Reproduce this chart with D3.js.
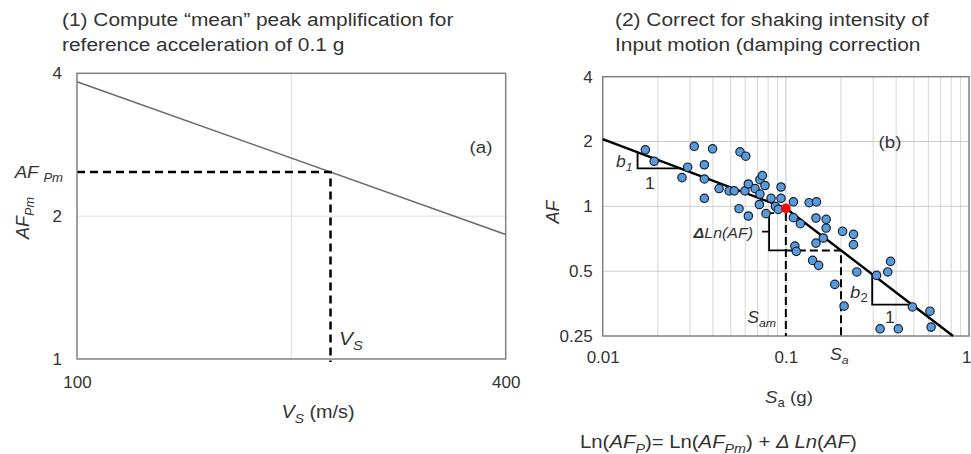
<!DOCTYPE html>
<html>
<head>
<meta charset="utf-8">
<script src="https://cdn.jsdelivr.net/npm/d3@7"></script>
<style>
body { margin: 0; background: #fff; }
text { font-family: "Liberation Sans", Arial, sans-serif; fill: #333; }
</style>
</head>
<body>
<svg id="chart" width="971" height="454"></svg>
<script>
// panel (a): mean peak amplification vs Vs
var vsLine = [100, 400];
var afLine = [3.84, 1.83];
var vsPick = 227;
var xTicksA = [100, 400];
var yTicksA = [1, 2, 4];
var gridXA = [200];
var gridYA = [2];

// panel (b): AF vs Sa
var saObs = [0.0171, 0.0191, 0.0316, 0.0398, 0.0291, 0.0271, 0.0359, 0.0359, 0.0359, 0.0432,
  0.0490, 0.0523, 0.0562, 0.0604, 0.0555, 0.0624, 0.0598, 0.0624, 0.0679, 0.0722,
  0.0744, 0.0769, 0.0722, 0.0717, 0.0779, 0.0830, 0.0877, 0.0941, 0.0941, 0.0910,
  0.110, 0.110, 0.120, 0.134, 0.147, 0.146, 0.166, 0.166, 0.160, 0.146,
  0.112, 0.114, 0.140, 0.151, 0.204, 0.234, 0.234, 0.244, 0.185, 0.208,
  0.313, 0.360, 0.373, 0.491, 0.612, 0.621, 0.327, 0.411];
var afObs = [1.83, 1.62, 1.90, 1.85, 1.52, 1.36, 1.56, 1.34, 1.09, 1.21,
  1.18, 1.18, 1.79, 1.71, 0.975, 0.902, 1.18, 1.27, 1.21, 1.33,
  1.39, 1.25, 1.14, 1.02, 0.925, 1.09, 1.00, 1.23, 1.09, 0.968,
  1.05, 0.886, 0.831, 1.04, 1.05, 0.883, 0.870, 0.793, 0.713, 0.675,
  0.654, 0.618, 0.561, 0.532, 0.765, 0.741, 0.664, 0.496, 0.434, 0.344,
  0.478, 0.496, 0.555, 0.341, 0.326, 0.275, 0.270, 0.270];
var fitSa = [0.01, 0.1, 0.818];
var fitAf = [2.05, 0.98, 0.25];
var saMean = 0.1;
var saPick = 0.2;
var bracketSa = 0.081;
var bracketTop = 0.931;
var slopeSa = [0.0155, 0.296];
var slopeBase = [1.5, 0.35];
var xTicksB = [0.01, 0.1, 1];
var yTicksB = [0.25, 0.5, 1, 2, 4];
var minorSa = [0.02, 0.03, 0.04, 0.05, 0.06, 0.07, 0.08, 0.09, 0.2, 0.3, 0.4, 0.5, 0.6, 0.7, 0.8, 0.9];

var svg = d3.select("#chart");
var stretch = 1.1;   // text in the source is a bit wide

// text with italic / subscript pieces
function rich(sel, parts, size) {
  var prevSub = false;
  parts.forEach(function(p) {
    var sub = p[1].indexOf("s") >= 0;
    var ts = sel.append("tspan").text(p[0])
      .attr("font-style", p[1].indexOf("i") >= 0 ? "italic" : "normal")
      .attr("font-weight", p[1].indexOf("b") >= 0 ? "bold" : "normal")
      .attr("font-size", sub ? size * 0.7 : size);
    if (sub !== prevSub) ts.attr("dy", sub ? size * 0.25 : -size * 0.25);
    prevSub = sub;
  });
  return sel;
}

function label(x, y, parts, size, anchor, rot) {
  var t = svg.append("text")
    .attr("text-anchor", anchor || "start")
    .attr("font-size", size)
    .attr("transform", "translate(" + x + "," + y + ")" + (rot ? " rotate(-90)" : " scale(" + stretch + ",1)"));
  return rich(t, parts, size);
}

function styleAxis(g, size) {
  g.select(".domain").remove();
  g.selectAll("text").attr("font-size", size).attr("fill", "#333")
    .attr("font-family", "Liberation Sans, Arial, sans-serif");
}

// ---------- titles ----------
label(62, 26, [["(1) Compute \u201cmean\u201d peak amplification for", ""]], 19);
label(62, 51, [["reference acceleration of 0.1 g", ""]], 19);
label(615, 26, [["(2) Correct for shaking intensity of", ""]], 19);
label(615, 51, [["Input motion (damping correction", ""]], 19);

// ---------- panel (a) ----------
var xA = d3.scaleLog().domain([100, 400]).range([77, 505.7]);
var yA = d3.scaleLog().base(2).domain([1, 4]).range([359, 73.3]);

var gA = svg.append("g");
gA.selectAll(".gx").data(gridXA).enter().append("line")
  .attr("x1", d => xA(d)).attr("x2", d => xA(d))
  .attr("y1", yA(4)).attr("y2", yA(1))
  .attr("stroke", "#dedede").attr("stroke-width", 1);
gA.selectAll(".gy").data(gridYA).enter().append("line")
  .attr("x1", xA(100)).attr("x2", xA(400))
  .attr("y1", d => yA(d)).attr("y2", d => yA(d))
  .attr("stroke", "#dedede").attr("stroke-width", 1);

var lineA = d3.line().x(d => xA(d[0])).y(d => yA(d[1]));
var afAt = d3.scaleLog().domain(vsLine).range(afLine.map(Math.log));
var afPick = Math.exp(afAt(vsPick));

gA.append("path")
  .datum(d3.zip(vsLine, afLine))
  .attr("d", lineA)
  .attr("fill", "none").attr("stroke", "#6a6a6a").attr("stroke-width", 1.5);

gA.append("path")
  .datum([[100, afPick], [vsPick, afPick], [vsPick, 0.985]])
  .attr("d", lineA)
  .attr("fill", "none").attr("stroke", "#000").attr("stroke-width", 2.5)
  .attr("stroke-dasharray", "8,5");

gA.append("rect")
  .attr("x", xA(100)).attr("y", yA(4))
  .attr("width", xA(400) - xA(100)).attr("height", yA(1) - yA(4))
  .attr("fill", "none").attr("stroke", "#808080").attr("stroke-width", 1.5);

gA.append("g").attr("transform", "translate(" + xA(100) + ",0)")
  .call(d3.axisLeft(yA).tickValues(yTicksA).tickSize(0).tickPadding(15).tickFormat(d => d))
  .call(styleAxis, 17);
gA.append("g").attr("transform", "translate(0," + yA(1) + ")")
  .call(d3.axisBottom(xA).tickValues(xTicksA).tickSize(0).tickPadding(17).tickFormat(d => d))
  .call(styleAxis, 17);

label(63, yA(afPick) + 6, [["AF ", "i"], ["Pm", "is"]], 17, "end");
label(29, 218, [["AF", "i"], ["Pm", "is"]], 18, "middle", true);
label(318, 418, [["V", "i"], ["S", "is"], [" (m/s)", ""]], 18, "middle");
label(339, 345, [["V", "i"], ["S", "is"]], 19);
label(481, 153, [["(a)", ""]], 17, "middle");

// ---------- panel (b) ----------
var xB = d3.scaleLog().domain([0.01, 1]).range([602.7, 969]);
var yB = d3.scaleLog().base(2).domain([0.25, 4]).range([336, 76.7]);

var fitLog = d3.scaleLog().domain(fitSa).range(fitAf.map(Math.log));
function fit(s) { return Math.exp(fitLog(s)); }
function fitInv(a) { return fitLog.invert(Math.log(a)); }

var gB = svg.append("g");
gB.selectAll(".mx").data(minorSa.concat([0.1])).enter().append("line")
  .attr("x1", d => xB(d)).attr("x2", d => xB(d))
  .attr("y1", yB(4)).attr("y2", yB(0.25))
  .attr("stroke", d => d === 0.1 ? "#c4c4c4" : "#d6d6d6").attr("stroke-width", 1);
gB.selectAll(".my").data([0.5, 1, 2]).enter().append("line")
  .attr("x1", xB(0.01)).attr("x2", xB(1))
  .attr("y1", d => yB(d)).attr("y2", d => yB(d))
  .attr("stroke", "#cccccc").attr("stroke-width", 1);

gB.append("rect")
  .attr("x", xB(0.01)).attr("y", yB(4))
  .attr("width", xB(1) - xB(0.01)).attr("height", yB(0.25) - yB(4))
  .attr("fill", "none").attr("stroke", "#808080").attr("stroke-width", 1.5);

var lineB = d3.line().x(d => xB(d[0])).y(d => yB(d[1]));

// dashed construction lines
var afPickB = fit(saPick);
gB.append("path")
  .datum([[saMean, bracketTop], [saMean, 0.25]])
  .attr("d", lineB).attr("fill", "none").attr("stroke", "#000")
  .attr("stroke-width", 2).attr("stroke-dasharray", "8,4");
gB.append("path")
  .datum([[saMean, afPickB], [saPick, afPickB], [saPick, 0.25]])
  .attr("d", lineB).attr("fill", "none").attr("stroke", "#000")
  .attr("stroke-width", 2).attr("stroke-dasharray", "8,4");

// bracket for delta Ln(AF)
var bx = xB(bracketSa);
var bt = yB(bracketTop), bb = yB(afPickB);
gB.append("path")
  .attr("d", "M" + (bx + 5) + "," + bt + "H" + bx + "V" + bb + "H" + xB(saMean)
    + "M" + bx + "," + ((bt + bb) / 2) + "H" + (bx - 7))
  .attr("fill", "none").attr("stroke", "#000").attr("stroke-width", 1.8);

// fit line
gB.append("path")
  .datum(d3.zip(fitSa, fitAf))
  .attr("d", lineB).attr("fill", "none").attr("stroke", "#000").attr("stroke-width", 2.4);

// slope triangles
slopeSa.forEach(function(s, i) {
  var base = slopeBase[i];
  gB.append("path")
    .datum([[s, fit(s)], [s, base], [fitInv(base), base]])
    .attr("d", lineB).attr("fill", "none").attr("stroke", "#000").attr("stroke-width", 1.8);
});

// observations
gB.selectAll(".pt").data(d3.zip(saObs, afObs)).enter().append("circle")
  .attr("cx", d => xB(d[0])).attr("cy", d => yB(d[1])).attr("r", 4.2)
  .attr("fill", "#5b9bd5").attr("stroke", "#14213d").attr("stroke-width", 1.2);

gB.append("circle")
  .attr("cx", xB(saMean)).attr("cy", yB(fit(saMean))).attr("r", 4.8)
  .attr("fill", "#ff0000");

gB.append("g").attr("transform", "translate(" + xB(0.01) + ",0)")
  .call(d3.axisLeft(yB).tickValues(yTicksB).tickSize(0).tickPadding(10).tickFormat(d => d))
  .call(styleAxis, 17);
var axB = gB.append("g").attr("transform", "translate(0," + yB(0.25) + ")")
  .call(d3.axisBottom(xB).tickValues(xTicksB).tickSize(0).tickPadding(15).tickFormat(d => d))
  .call(styleAxis, 17);
// last tick sits on the right edge of the page
axB.selectAll(".tick").filter(d => d === 1).select("text")
  .attr("text-anchor", "end").attr("x", 2);

label(559, 212, [["AF", "i"]], 18, "middle", true);
label(789, 403, [["S", "i"], ["a", "s"], [" (g)", ""]], 17, "middle");
label(890, 148, [["(b)", ""]], 17, "middle");
label(616, 167, [["b", "i"], ["1", "is"]], 16);
label(645, 189, [["1", ""]], 16);
label(850, 298, [["b", "i"], ["2", "s"]], 17);
label(885, 323, [["1", ""]], 16);
label(753, 238, [["\u0394", "bi"], ["Ln(AF)", "i"]], 14.5, "end");
label(776, 323, [["S", "i"], ["am", "is"]], 16, "end");
label(830, 360, [["S", "i"], ["a", "is"]], 16);

label(580, 448, [["Ln(", ""], ["AF", "i"], ["P", "is"], [")= Ln(", ""], ["AF", "i"], ["Pm", "is"],
  [") + ", ""], ["\u0394 Ln", "i"], ["(", ""], ["AF", "i"], [")", ""]], 18.5);
</script>
</body>
</html>
